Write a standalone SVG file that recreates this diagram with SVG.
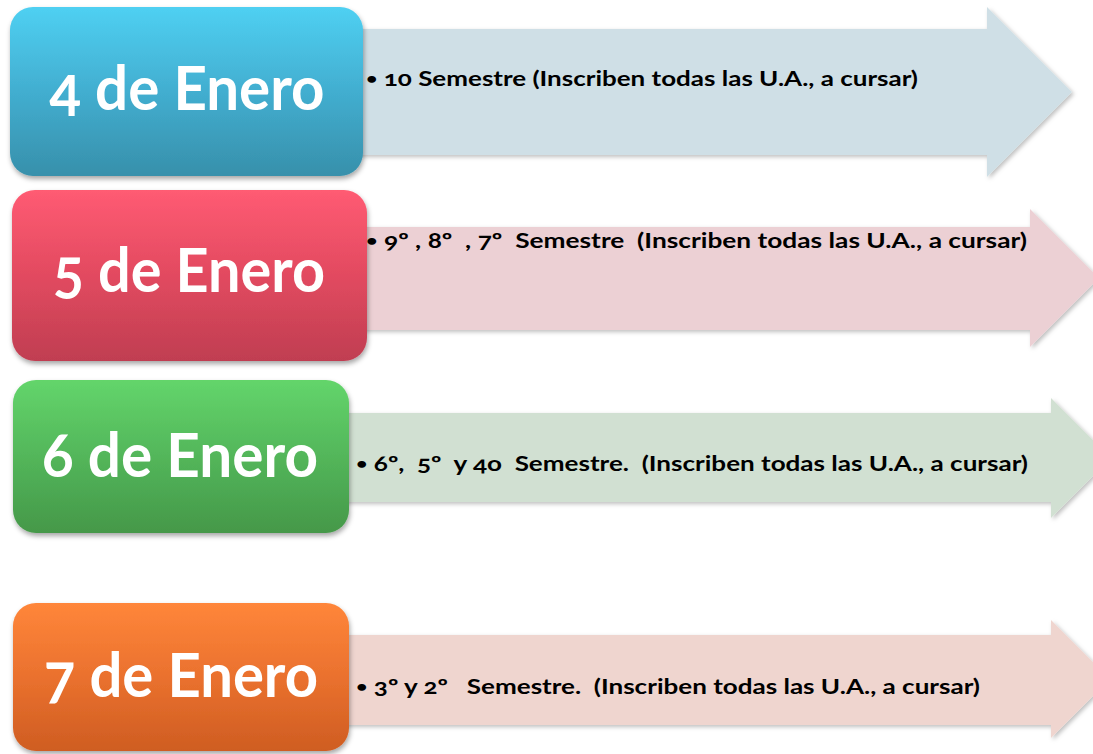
<svg xmlns="http://www.w3.org/2000/svg" width="1093" height="754" viewBox="0 0 1093 754">
<defs>
<linearGradient id="gBlue" x1="0" y1="0" x2="0" y2="1"><stop offset="0" stop-color="#4fd0f2"/><stop offset="0.5" stop-color="#42aed0"/><stop offset="1" stop-color="#3790ab"/></linearGradient>
<linearGradient id="gRed" x1="0" y1="0" x2="0" y2="1"><stop offset="0" stop-color="#ff5b73"/><stop offset="0.5" stop-color="#e24a60"/><stop offset="1" stop-color="#c03e51"/></linearGradient>
<linearGradient id="gGreen" x1="0" y1="0" x2="0" y2="1"><stop offset="0" stop-color="#63d56b"/><stop offset="0.5" stop-color="#53b65a"/><stop offset="1" stop-color="#459849"/></linearGradient>
<linearGradient id="gOrange" x1="0" y1="0" x2="0" y2="1"><stop offset="0" stop-color="#ff863a"/><stop offset="0.5" stop-color="#ea712e"/><stop offset="1" stop-color="#cf5d22"/></linearGradient>
<filter id="boxShadow" x="-10%" y="-10%" width="120%" height="130%"><feDropShadow dx="1" dy="3" stdDeviation="2.5" flood-color="#000" flood-opacity="0.35"/></filter>
<filter id="arrowShadow" x="-5%" y="-10%" width="110%" height="125%"><feDropShadow dx="2" dy="2" stdDeviation="2" flood-color="#000" flood-opacity="0.25"/></filter>
<style>
.date{font-family:Lato,"Open Sans","Liberation Sans",sans-serif;font-weight:700;fill:#fff;font-size:62px;font-variant-numeric:oldstyle-nums}
.info{font-family:Lato,"Open Sans","Liberation Sans",sans-serif;font-weight:700;fill:#000;font-size:21px;white-space:pre;font-variant-numeric:oldstyle-nums}
.bul{font-size:16px;baseline-shift:2px}
.box{filter:url(#boxShadow)}
.arrow{filter:url(#arrowShadow)}
</style>
</defs>
<rect width="1093" height="754" fill="#fff"/>
<g id="connectors">
<polygon class="arrow" points="300,29 987,29 987,7 1072,92 987,177 987,155 300,155" fill="#cfdfe6"/>
<polygon class="arrow" points="300,227 1030,227 1030,209 1099,278 1030,347 1030,330 300,330" fill="#ecd0d4"/>
<polygon class="arrow" points="300,413 1051,413 1051,398 1111,458 1051,518 1051,502 300,502" fill="#d1e0d2"/>
<polygon class="arrow" points="300,635 1051,635 1051,620 1110,679 1051,738 1051,725 300,725" fill="#efd5cf"/>
</g>
<g id="node-4-enero">
<rect class="box" x="10" y="7" width="353" height="169" rx="23" fill="url(#gBlue)"/>
<text class="date" x="187" y="110" text-anchor="middle" textLength="275" lengthAdjust="spacingAndGlyphs">4 de Enero</text>
<text class="info" x="366" y="86" textLength="552" lengthAdjust="spacingAndGlyphs"><tspan class="bul">•</tspan> 10 Semestre (Inscriben todas las U.A., a cursar)</text>
</g>
<g id="node-5-enero">
<rect class="box" x="12" y="190" width="355" height="171" rx="23" fill="url(#gRed)"/>
<text class="date" x="189" y="292" text-anchor="middle" textLength="272" lengthAdjust="spacingAndGlyphs">5 de Enero</text>
<text class="info" x="366" y="248" textLength="661" lengthAdjust="spacingAndGlyphs"><tspan class="bul">•</tspan> 9º , 8º  , 7º  Semestre  (Inscriben todas las U.A., a cursar)</text>
</g>
<g id="node-6-enero">
<rect class="box" x="13" y="380" width="336" height="153" rx="23" fill="url(#gGreen)"/>
<text class="date" x="180" y="477" text-anchor="middle" textLength="276" lengthAdjust="spacingAndGlyphs">6 de Enero</text>
<text class="info" x="356" y="471" textLength="672" lengthAdjust="spacingAndGlyphs"><tspan class="bul">•</tspan> 6º,  5º  y 4o  Semestre.  (Inscriben todas las U.A., a cursar)</text>
</g>
<g id="node-7-enero">
<rect class="box" x="13" y="603" width="336" height="148" rx="23" fill="url(#gOrange)"/>
<text class="date" x="181" y="697" text-anchor="middle" textLength="274" lengthAdjust="spacingAndGlyphs">7 de Enero</text>
<text class="info" x="356" y="694" textLength="624" lengthAdjust="spacingAndGlyphs"><tspan class="bul">•</tspan> 3º y 2º   Semestre.  (Inscriben todas las U.A., a cursar)</text>
</g>
</svg>
